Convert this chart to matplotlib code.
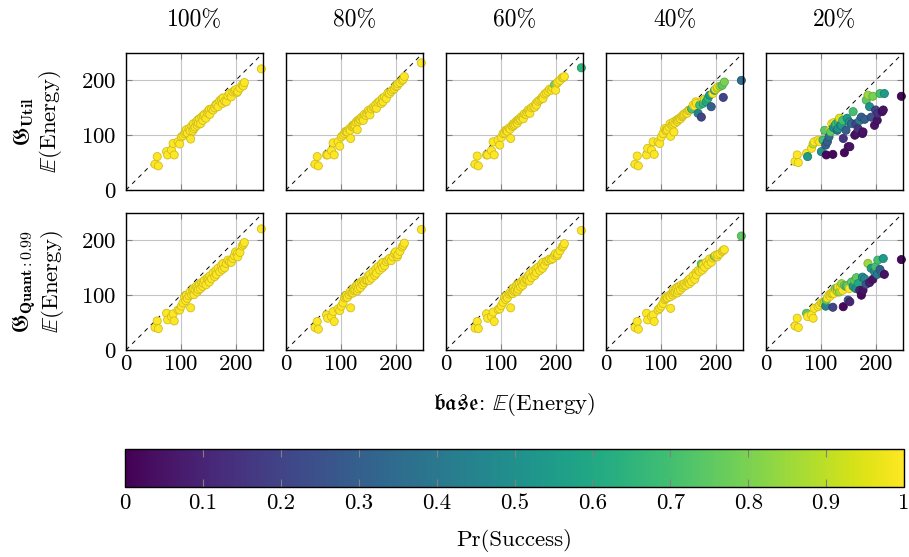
import numpy as np
import matplotlib as mpl
import matplotlib.pyplot as plt

plt.rcParams['font.family'] = 'serif'
plt.rcParams['font.serif'] = ['cmr10']
plt.rcParams['mathtext.fontset'] = 'cm'
plt.rcParams['axes.formatter.use_mathtext'] = True

budgets = ['100%', '80%', '60%', '40%', '20%']
row_names = [r'$\mathfrak{G}_{\mathbf{Util}}$', r'$\mathfrak{G}_{\mathbf{Quant:0.99}}$']

# base: E(Energy), shared by every panel
base_energy = [53, 57, 59, 74, 76, 83, 86, 88, 95, 98,
               101, 104, 107, 109, 110, 112, 115, 117, 118, 120,
               122, 123, 124, 126, 128, 130, 131, 132, 134, 136,
               138, 140, 141, 143, 146, 148, 150, 152, 153, 156,
               159, 162, 164, 165, 168, 171, 174, 176, 177, 180,
               183, 186, 189, 192, 195, 198, 200, 203, 204, 208,
               212, 214, 216, 247]

# G_Util: E(Energy)
util_100 = [47, 61, 44, 70, 64, 73, 85, 64, 88, 84,
            97, 99, 103, 106, 110, 104, 112, 108, 93, 117,
            108, 121, 112, 115, 124, 118, 128, 122, 130, 121,
            133, 127, 136, 138, 131, 141, 144, 147, 138, 148,
            146, 150, 156, 155, 152, 163, 165, 158, 168, 162,
            161, 172, 176, 170, 179, 181, 183, 178, 180, 186,
            192, 190, 196, 221]
util_80 = [47, 61, 44, 64, 64, 72, 86, 64, 88, 80,
           97, 100, 103, 107, 106, 106, 111, 109, 94, 116,
           115, 119, 117, 118, 124, 110, 127, 125, 129, 128,
           133, 131, 127, 138, 136, 140, 145, 142, 137, 148,
           151, 150, 156, 149, 160, 162, 158, 167, 161, 170,
           167, 177, 176, 180, 183, 185, 189, 190, 194, 196,
           200, 202, 207, 232]
util_60 = [47, 62, 44, 64, 64, 72, 88, 64, 91, 82,
           96, 103, 104, 109, 108, 107, 113, 111, 94, 117,
           116, 121, 118, 120, 125, 122, 128, 127, 130, 129,
           134, 133, 130, 139, 138, 142, 146, 144, 140, 150,
           152, 151, 158, 155, 162, 164, 166, 170, 167, 175,
           177, 180, 184, 182, 186, 192, 182, 195, 197, 200,
           205, 205, 207, 223]
util_40 = [47, 62, 44, 64, 76, 73, 88, 65, 88, 85,
           97, 103, 112, 109, 108, 110, 115, 121, 98, 118,
           120, 124, 106, 122, 127, 125, 129, 128, 131, 130,
           134, 135, 137, 139, 141, 140, 145, 146, 146, 148,
           155, 153, 161, 158, 140, 155, 133, 163, 158, 166,
           161, 167, 173, 152, 176, 182, 184, 186, 188, 189,
           191, 169, 197, 200]
util_20 = [52, 64, 50, 67, 61, 76, 84, 88, 91, 88,
           70, 91, 109, 82, 64, 88, 97, 109, 106, 121,
           65, 114, 123, 118, 121, 109, 112, 124, 131, 118,
           118, 127, 94, 68, 109, 131, 79, 124, 79, 121,
           143, 100, 121, 103, 112, 127, 133, 103, 106, 129,
           164, 173, 152, 133, 171, 118, 146, 127, 140, 176,
           143, 146, 176, 171]

# G_Quant:0.99: E(Energy)
quant_100 = [41, 53, 39, 67, 55, 61, 66, 53, 73, 73,
             80, 86, 97, 90, 100, 94, 99, 106, 77, 101,
             108, 112, 101, 110, 116, 106, 115, 110, 120, 112,
             123, 116, 122, 127, 119, 131, 128, 124, 135, 130,
             141, 134, 145, 138, 149, 143, 154, 147, 158, 150,
             158, 164, 161, 160, 167, 172, 179, 176, 170, 178,
             190, 193, 196, 221]
quant_80 = [41, 52, 38, 64, 58, 61, 70, 52, 75, 72,
            80, 86, 95, 97, 100, 96, 101, 106, 77, 104,
            104, 112, 108, 110, 117, 108, 119, 112, 121, 114,
            125, 119, 126, 123, 127, 128, 135, 127, 138, 131,
            143, 136, 148, 140, 152, 146, 157, 150, 160, 154,
            161, 164, 167, 163, 170, 176, 179, 170, 174, 180,
            188, 191, 195, 220]
quant_60 = [40, 52, 39, 66, 58, 61, 69, 52, 74, 75,
            81, 87, 96, 92, 99, 95, 102, 105, 77, 104,
            103, 113, 107, 109, 117, 107, 120, 111, 121, 115,
            125, 118, 128, 124, 128, 129, 135, 126, 139, 132,
            144, 136, 148, 141, 151, 145, 156, 149, 160, 155,
            162, 163, 166, 165, 167, 173, 176, 172, 175, 181,
            188, 190, 194, 218]
quant_40 = [41, 52, 38, 67, 55, 61, 64, 52, 73, 76,
            80, 85, 92, 94, 97, 95, 99, 97, 76, 103,
            100, 109, 104, 106, 113, 104, 115, 108, 116, 110,
            119, 114, 118, 121, 118, 124, 127, 121, 130, 125,
            136, 129, 141, 137, 145, 143, 157, 146, 155, 151,
            160, 156, 166, 160, 168, 171, 173, 170, 174, 176,
            180, 182, 183, 208]
quant_20 = [44, 58, 41, 67, 61, 64, 58, 76, 79, 82,
            86, 85, 88, 80, 91, 95, 100, 98, 103, 104,
            78, 106, 103, 112, 109, 112, 106, 115, 106, 117,
            121, 109, 79, 118, 116, 118, 91, 112, 88, 124,
            116, 127, 112, 132, 121, 109, 100, 133, 109, 130,
            120, 158, 123, 149, 129, 143, 152, 138, 164, 147,
            140, 167, 138, 165]

# Pr(Success)
all_ok = [1.0] * len(base_energy)
succ_util_60 = [1, 1, 1, 1, 1, 1, 1, 1, 1, 1,
                1, 1, 1, 1, 1, 1, 1, 1, 1, 1,
                1, 1, 1, 1, 1, 1, 1, 1, 1, 1,
                1, 1, 1, 1, 1, 1, 1, 1, 1, 1,
                1, 1, 1, 1, 1, 1, 1, 1, 1, 1,
                1, 1, 1, 1, 1, 0.8, 1, 1, 1, 1,
                1, 1, 1, 0.65]
succ_util_40 = [1, 1, 1, 1, 1, 1, 1, 1, 1, 1,
                1, 1, 1, 1, 1, 1, 1, 1, 1, 1,
                1, 1, 1, 1, 1, 1, 1, 1, 1, 1,
                1, 1, 1, 1, 1, 1, 1, 1, 1, 0.7,
                1, 1, 1, 1, 0.45, 0.7, 0.2, 1, 0.65, 0.95,
                0.6, 0.65, 0.55, 0.3, 1, 0.6, 1, 0.9, 1, 0.85,
                0.75, 0.2, 0.8, 0.35]
succ_util_20 = [1, 1, 1, 1, 0.55, 1, 0.9, 1, 1, 1,
                0.5, 0.7, 0.75, 0.3, 0.02, 0.3, 0.35, 1, 0.75, 1,
                0.02, 0.5, 1, 0.55, 0.7, 0.35, 0.5, 0.65, 0.95, 0.5,
                0.55, 0.7, 0.15, 0.02, 0.3, 0.55, 0.05, 0.5, 0.05, 0.35,
                0.7, 0.05, 0.2, 0.05, 0.15, 0.45, 0.3, 0.05, 0.05, 0.3,
                0.75, 0.85, 0.5, 0.25, 0.8, 0.05, 0.2, 0.05, 0.15, 0.7,
                0.05, 0.05, 0.55, 0.02]
succ_quant_40 = [1, 1, 1, 1, 1, 1, 1, 1, 1, 1,
                 1, 1, 1, 1, 1, 1, 1, 1, 1, 1,
                 1, 1, 1, 1, 1, 1, 1, 1, 1, 1,
                 1, 1, 1, 1, 1, 1, 1, 1, 1, 1,
                 1, 1, 1, 1, 1, 1, 0.75, 1, 1, 1,
                 1, 1, 1, 1, 1, 0.8, 1, 1, 1, 1,
                 1, 1, 1, 0.75]
succ_quant_20 = [1, 1, 1, 0.75, 1, 1, 1, 1, 1, 1,
                 1, 0.95, 0.9, 0.45, 0.75, 1, 1, 1, 1, 0.95,
                 0.2, 1, 1, 0.8, 1, 0.75, 0.9, 1, 0.85, 1,
                 0.85, 1, 0.02, 0.8, 0.7, 0.75, 0.25, 1, 0.1, 0.75,
                 0.55, 0.75, 0.5, 0.75, 0.6, 0.1, 0.02, 0.5, 0.05, 0.45,
                 0.25, 0.85, 0.08, 0.55, 0.05, 0.45, 0.7, 0.4, 0.7, 0.3,
                 0.35, 0.55, 0.05, 0.02]

energy = [[util_100, util_80, util_60, util_40, util_20],
          [quant_100, quant_80, quant_60, quant_40, quant_20]]
success = [[all_ok, all_ok, succ_util_60, succ_util_40, succ_util_20],
           [all_ok, all_ok, all_ok, succ_quant_40, succ_quant_20]]

W, H = 909, 557
FS = 16.5
fig = plt.figure(figsize=(W / 100, H / 100), dpi=100)
cmap = plt.get_cmap('viridis')
norm = mpl.colors.Normalize(0, 1)

lefts = [126, 286, 446, 606, 766]
tops = [53, 213]
size = 137

for r in range(2):
    for c in range(5):
        ax = fig.add_axes([lefts[c] / W, 1 - (tops[r] + size) / H, size / W, size / H])
        ax.set_xlim(0, 250)
        ax.set_ylim(0, 250)
        ax.set_xticks([0, 100, 200])
        ax.set_yticks([0, 100, 200])
        ax.grid(True, color='#c4c4c4', linewidth=0.8)
        ax.set_axisbelow(True)
        ax.tick_params(direction='in', length=4, color='#808080', width=0.8,
                       top=True, right=True, labelsize=FS)
        ax.tick_params(axis='y', pad=7)
        ax.tick_params(axis='x', pad=3)
        if r == 0:
            ax.tick_params(labelbottom=False)
        if c > 0:
            ax.tick_params(labelleft=False)
        for sp in ax.spines.values():
            sp.set_linewidth(1.0)
            sp.set_zorder(5)
        ax.plot([0, 250], [0, 250], color='black', linestyle=(0, (4.5, 4.5)), linewidth=0.7, zorder=2)

        vals = np.array(success[r][c], dtype=float)
        fc = cmap(norm(vals))
        ec = fc.copy()
        ec[:, :3] *= 0.82
        ax.scatter(base_energy, energy[r][c], s=34, c=fc, edgecolors=ec,
                   linewidths=0.6, zorder=3, clip_on=False)

        if r == 0:
            fig.text((lefts[c] + size / 2) / W, 1 - 20 / H, budgets[c],
                     ha='center', va='center', fontsize=FS + 0.5)

for r in range(2):
    fig.text(38 / W, 1 - (tops[r] + size / 2) / H,
             row_names[r] + '\n' + r'$\mathbb{E}$(Energy)',
             rotation=90, ha='center', va='center', fontsize=FS,
             multialignment='center', linespacing=1.05)

fig.text((126 + 903) / 2 / W, 1 - 405 / H, r'$\mathfrak{base}$: $\mathbb{E}$(Energy)',
         ha='center', va='center', fontsize=FS)

cax = fig.add_axes([125 / W, 1 - 487 / H, 779 / W, 38 / H])
sm = mpl.cm.ScalarMappable(norm=norm, cmap=cmap)
cb = fig.colorbar(sm, cax=cax, orientation='horizontal')
ticks = [0, 0.1, 0.2, 0.3, 0.4, 0.5, 0.6, 0.7, 0.8, 0.9, 1]
cb.set_ticks(ticks)
cb.set_ticklabels(['0', '0.1', '0.2', '0.3', '0.4', '0.5', '0.6', '0.7', '0.8', '0.9', '1'])
cax.tick_params(direction='in', length=6, color='#808080', width=0.8,
                top=True, labelsize=FS, pad=5)
cb.outline.set_linewidth(1.0)
cb.set_label('Pr(Success)', fontsize=FS, labelpad=11)

fig.savefig('out.png', dpi=100)
